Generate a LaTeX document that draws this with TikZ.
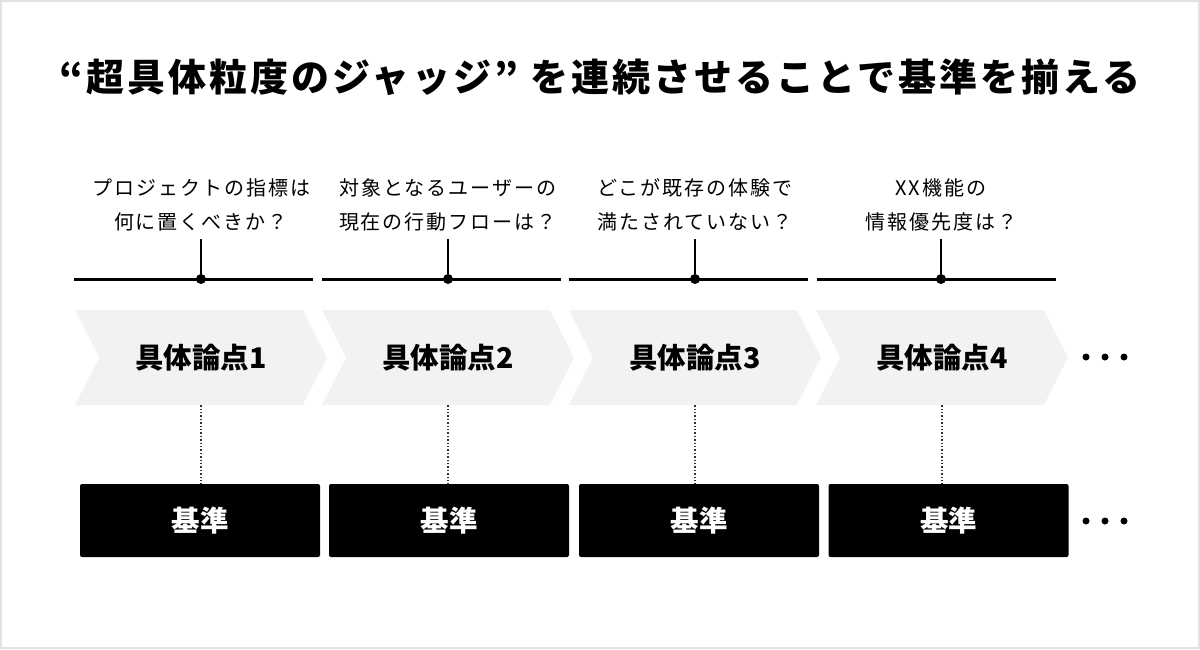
\documentclass[tikz,border=0pt]{standalone}
\usepackage{fontspec}
\setmainfont{Noto Sans CJK JP}
\newfontfamily\TitleFont{Noto Sans CJK JP}[LetterSpace=8]
\newfontfamily\QuestionFont{Noto Sans CJK JP}[LetterSpace=10]
\usepackage{tikz}
\usetikzlibrary{shapes.symbols}
\usepackage{xcolor}
\definecolor{ColChevron}{RGB}{242,242,242}
\definecolor{ColFrame}{RGB}{226,226,226}
\definecolor{ColDots}{RGB}{50,50,50}
\tikzstyle{TitleText}=[inner sep=0pt,font=\TitleFont\bfseries\fontsize{38}{44}\selectfont]
\tikzstyle{Question}=[inner sep=0pt,align=center,font=\QuestionFont\fontsize{20}{34}\selectfont]
\tikzstyle{Chevron}=[shape=signal,signal from=west,signal to=east,signal pointer angle=126,
fill=ColChevron,minimum width=252pt,minimum height=95pt,inner sep=0pt,
font=\bfseries\fontsize{28.5}{32}\selectfont]
\tikzstyle{BaseBox}=[fill=black,rounded corners=2pt,minimum width=240pt,minimum height=73pt,
inner sep=0pt,text=white,font=\bfseries\fontsize{28.5}{32}\selectfont]
\tikzstyle{TimeLine}=[line width=3pt]
\tikzstyle{TickLine}=[line width=2pt]
\tikzstyle{TickDot}=[circle,fill=black,inner sep=0pt,minimum size=10pt]
\tikzstyle{LinkDotted}=[ColDots,line width=1.4pt,dotted]
\tikzstyle{MoreDot}=[circle,fill=black,inner sep=0pt,minimum size=7pt]

\begin{document}
\begin{tikzpicture}[x=1pt,y=-1pt]
        \useasboundingbox(0,0)rectangle(1200,649);
        \draw[ColFrame,line width=2pt](1,1)rectangle(1199,648);
        % title
        \node[TitleText](title)at(600,77){“超具体粒度のジャッジ” を連続させることで基準を揃える};
        % questions
        \node[Question](q1)at(201,205){プロジェクトの指標は\\何に置くべきか？};
        \node[Question](q2)at(448,205){対象となるユーザーの\\現在の行動フローは？};
        \node[Question](q3)at(695,205){どこが既存の体験で\\満たされていない？};
        \node[Question](q4)at(941,205){XX機能の\\情報優先度は？};
        % time line
        \coordinate(l1)at(74,279);\coordinate(r1)at(313,279);
        \coordinate(l2)at(322,279);\coordinate(r2)at(561,279);
        \coordinate(l3)at(569,279);\coordinate(r3)at(808,279);
        \coordinate(l4)at(817,279);\coordinate(r4)at(1056,279);
        \draw[TimeLine](l1)--(r1);
        \draw[TimeLine](l2)--(r2);
        \draw[TimeLine](l3)--(r3);
        \draw[TimeLine](l4)--(r4);
        \coordinate(t1)at(201,239);\node[TickDot](d1)at(201,279){};
        \coordinate(t2)at(448,239);\node[TickDot](d2)at(448,279){};
        \coordinate(t3)at(695,239);\node[TickDot](d3)at(695,279){};
        \coordinate(t4)at(941,239);\node[TickDot](d4)at(941,279){};
        \draw[TickLine](t1)--(d1);
        \draw[TickLine](t2)--(d2);
        \draw[TickLine](t3)--(d3);
        \draw[TickLine](t4)--(d4);
        % chevrons
        \node[Chevron](c1)at(201,357.5){具体論点1};
        \node[Chevron](c2)at(448,357.5){具体論点2};
        \node[Chevron](c3)at(695,357.5){具体論点3};
        \node[Chevron](c4)at(942,357.5){具体論点4};
        % criteria
        \node[BaseBox](b1)at(200,520.5){基準};
        \node[BaseBox](b2)at(449,520.5){基準};
        \node[BaseBox](b3)at(699,520.5){基準};
        \node[BaseBox](b4)at(948.5,520.5){基準};
        \draw[LinkDotted](c1.south)--(c1.south|-b1.north);
        \draw[LinkDotted](c2.south)--(c2.south|-b2.north);
        \draw[LinkDotted](c3.south)--(c3.south|-b3.north);
        \draw[LinkDotted](c4.south)--(c4.south|-b4.north);
        % more
        \node[MoreDot](m1)at(1086,357){};\node[MoreDot](m2)at(1105,357){};\node[MoreDot](m3)at(1124,357){};
        \node[MoreDot](n1)at(1086,521){};\node[MoreDot](n2)at(1105,521){};\node[MoreDot](n3)at(1124,521){};
    \end{tikzpicture}
\end{document}
